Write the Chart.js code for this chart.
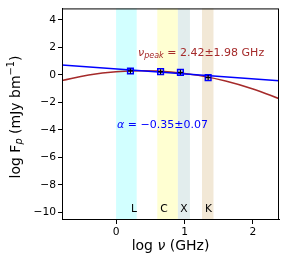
<!DOCTYPE html>
<html>
<head>
<meta charset="utf-8">
<script src="https://cdn.jsdelivr.net/npm/chart.js@4"></script>
<style>
  body { margin: 0; background: #fff; }
  #wrap { width: 288px; height: 265px; }
</style>
</head>
<body>
<div id="wrap"><canvas id="sed" width="288" height="265"></canvas></div>
<script>
// measured points (log GHz, log mJy/beam)
const obsX = [0.21, 0.65, 0.94, 1.345];
const obsY = [0.29, 0.24, 0.19, -0.19];

// power-law fit line
const plX = [-0.8, 2.4];
const plY = [0.72, -0.43];

// curved (peaked) fit
const cvX = [-0.8, -0.4, 0, 0.4, 0.8, 1.2, 1.6, 2.0, 2.4];
const cvY = [-0.41, 0.0, 0.24, 0.31, 0.22, -0.03, -0.44, -1.02, -1.76];

// receiver bands
const bandNames = ["L", "C", "X", "K"];
const bandLo = [0, 0.602, 0.903, 1.255];
const bandHi = [0.301, 0.903, 1.079, 1.423];
const bandLabelX = [0.26, 0.70, 0.99, 1.35];
const bandColors = ["#d2ffff", "#ffffd2", "#e2eded", "#f2e8d6"];

const xTicks = [0, 1, 2];
const yTicks = [-10, -8, -6, -4, -2, 0, 2, 4];

const FONT = "'DejaVu Sans', sans-serif";

function toPts(xs, ys) {
  return xs.map((x, i) => ({ x: x, y: ys[i] }));
}

const bandsPlugin = {
  id: 'bands',
  beforeDatasetsDraw(chart) {
    const { ctx, chartArea, scales } = chart;
    ctx.save();
    bandNames.forEach((b, i) => {
      const x0 = scales.x.getPixelForValue(bandLo[i]);
      const x1 = scales.x.getPixelForValue(bandHi[i]);
      ctx.fillStyle = bandColors[i];
      ctx.fillRect(x0, chartArea.top, x1 - x0, chartArea.bottom - chartArea.top);
    });
    ctx.restore();
  }
};

const textPlugin = {
  id: 'texts',
  afterDatasetsDraw(chart) {
    const { ctx, chartArea, scales } = chart;
    ctx.save();
    ctx.textBaseline = 'middle';
    ctx.textAlign = 'center';
    ctx.fillStyle = '#000';
    ctx.font = "10.7px " + FONT;
    bandNames.forEach((b, i) => {
      ctx.fillText(b, scales.x.getPixelForValue(bandLabelX[i]), scales.y.getPixelForValue(-9.75));
    });

    // nu_peak label
    ctx.textAlign = 'left';
    ctx.fillStyle = '#a52a2a';
    let x = 138, y = 53;
    ctx.font = "italic 11px " + FONT;
    ctx.fillText("ν", x, y);
    x += ctx.measureText("ν").width;
    ctx.font = "italic 8px " + FONT;
    ctx.fillText("peak", x, y + 3);
    x += ctx.measureText("peak").width;
    ctx.font = "11px " + FONT;
    ctx.fillText(" = 2.42±1.98 GHz", x, y);

    // alpha label
    ctx.fillStyle = '#0000ff';
    x = 117; y = 125;
    ctx.font = "italic 11px " + FONT;
    ctx.fillText("α", x, y);
    x += ctx.measureText("α").width;
    ctx.font = "11px " + FONT;
    ctx.fillText(" = −0.35±0.07", x, y);

    // frame
    ctx.strokeStyle = '#000';
    ctx.lineWidth = 1;
    ctx.strokeRect(chartArea.left + 0.5, chartArea.top + 0.5,
      chartArea.right - chartArea.left - 1, chartArea.bottom - chartArea.top - 1);

    // axis titles
    ctx.fillStyle = '#000';
    ctx.textAlign = 'left';
    const t1 = "log ", t2 = "ν", t3 = " (GHz)";
    ctx.font = "14px " + FONT; const w1 = ctx.measureText(t1).width;
    ctx.font = "italic 14px " + FONT; const w2 = ctx.measureText(t2).width;
    ctx.font = "14px " + FONT; const w3 = ctx.measureText(t3).width;
    const cx = (chartArea.left + chartArea.right) / 2 - (w1 + w2 + w3) / 2;
    const ty = 246;
    ctx.fillText(t1, cx, ty);
    ctx.font = "italic 14px " + FONT; ctx.fillText(t2, cx + w1, ty);
    ctx.font = "14px " + FONT; ctx.fillText(t3, cx + w1 + w2, ty);

    // y title, rotated
    ctx.translate(16, 117);
    ctx.rotate(-Math.PI / 2);
    const parts = [
      ["log F", "14px", 0],
      ["p", "italic 9.8px", 3],
      [" (mJy bm", "14px", 0],
      ["−1", "9.8px", -5],
      [")", "14px", 0]
    ];
    let tot = 0;
    parts.forEach(p => { ctx.font = p[1] + " " + FONT; tot += ctx.measureText(p[0]).width; });
    let px = -tot / 2;
    parts.forEach(p => {
      ctx.font = p[1] + " " + FONT;
      ctx.fillText(p[0], px, p[2]);
      px += ctx.measureText(p[0]).width;
    });
    ctx.restore();
  }
};

const ctx = document.getElementById('sed').getContext('2d');
new Chart(ctx, {
  type: 'scatter',
  data: {
    datasets: [
      {
        data: toPts(cvX, cvY),
        showLine: true,
        borderColor: '#a52a2a',
        borderWidth: 1.5,
        pointRadius: 0,
        tension: 0.4,
        order: 3
      },
      {
        data: toPts(plX, plY),
        showLine: true,
        borderColor: '#0000ff',
        borderWidth: 1.5,
        pointRadius: 0,
        order: 2
      },
      {
        data: toPts(obsX, obsY),
        pointStyle: 'rect',
        pointRadius: 4,
        borderColor: '#0000ff',
        borderWidth: 1.5,
        backgroundColor: 'rgba(0,0,0,0)',
        order: 1
      },
      {
        data: toPts(obsX, obsY),
        pointStyle: 'cross',
        pointRadius: 2.5,
        borderColor: '#000',
        borderWidth: 1.2,
        order: 0
      }
    ]
  },
  options: {
    responsive: false,
    animation: false,
    layout: { padding: { top: 7, right: 9, left: 0, bottom: 0 } },
    plugins: {
      legend: { display: false },
      tooltip: { enabled: false }
    },
    scales: {
      x: {
        type: 'linear',
        min: -0.79,
        max: 2.38,
        afterBuildTicks: s => { s.ticks = xTicks.map(v => ({ value: v })); },
        afterFit: s => { s.height = 45; },
        ticks: {
          color: '#000',
          font: { family: FONT, size: 10.7 },
          padding: 2,
          maxRotation: 0,
          callback: v => String(v).replace('-', '−')
        },
        grid: { drawOnChartArea: false, drawTicks: true, tickLength: 4, color: '#000' },
        border: { display: true, color: '#000', width: 1 }
      },
      y: {
        type: 'linear',
        min: -10.55,
        max: 4.84,
        afterBuildTicks: s => { s.ticks = yTicks.map(v => ({ value: v })); },
        afterFit: s => { s.width = 62; },
        ticks: {
          color: '#000',
          font: { family: FONT, size: 10.7 },
          padding: 2,
          callback: v => String(v).replace('-', '−')
        },
        grid: { drawOnChartArea: false, drawTicks: true, tickLength: 4, color: '#000' },
        border: { display: true, color: '#000', width: 1 }
      }
    }
  },
  plugins: [bandsPlugin, textPlugin]
});
</script>
</body>
</html>
